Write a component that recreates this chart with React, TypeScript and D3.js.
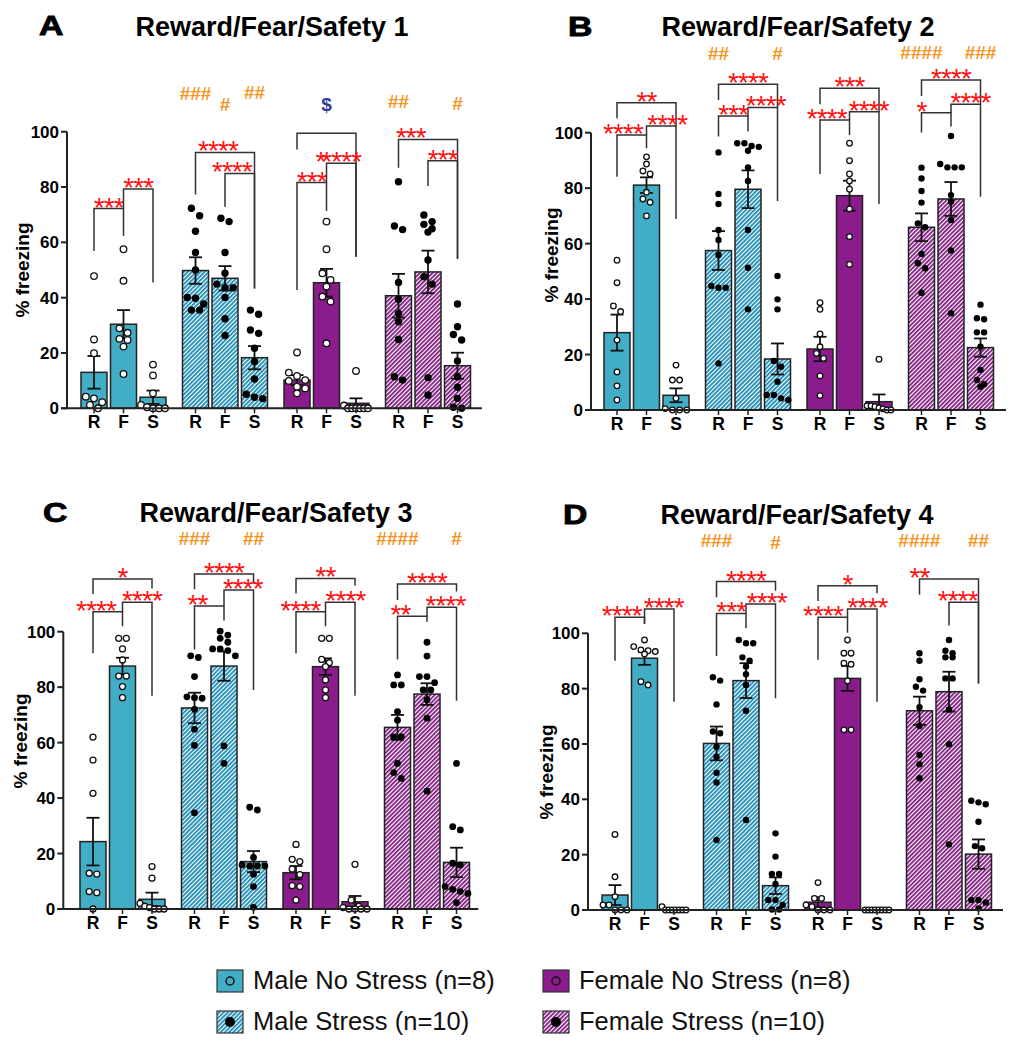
import React from "react";
import * as d3 from "d3";

// ---------- data ----------
const groupNames = ["Male No Stress (n=8)", "Male Stress (n=10)", "Female No Stress (n=8)", "Female Stress (n=10)"];
const phases = ["R", "F", "S"];
const yTicks = [0, 20, 40, 60, 80, 100];
const panelLetters = ["A", "B", "C", "D"];
const panelTitles = ["Reward/Fear/Safety 1", "Reward/Fear/Safety 2", "Reward/Fear/Safety 3", "Reward/Fear/Safety 4"];

// bar order: MNS R,F,S | MS R,F,S | FNS R,F,S | FS R,F,S
const meanA = [13.0, 30.4, 4.0, 49.8, 47.0, 18.3, 10.2, 45.4, 1.8, 40.7, 49.3, 15.4];
const semA = [5.9, 5.1, 2.4, 4.8, 4.4, 4.2, 1.8, 5.0, 1.8, 7.9, 7.7, 4.7];
const ptsA = [
  [47.8, 24.9, 19.9, 4.2, 3.6, 2.2, 1.2, 0],
  [57.5, 46.1, 28.9, 27.3, 25.1, 24.7, 22.3, 12.4],
  [15.8, 11.9, 5.4, 1.2, 0.4, 0, 0, 0],
  [72.3, 69.6, 64.0, 56.3, 50.0, 40.1, 39.8, 37.7, 35.5, 35.5],
  [68.7, 67.5, 56.3, 48.8, 44.9, 43.6, 43.6, 40.1, 32.4, 26.3],
  [35.5, 34.0, 28.3, 27.1, 21.7, 16.9, 10.6, 5.1, 4.0, 3.5],
  [20.2, 12.9, 11.7, 10.2, 9.9, 7.8, 7.2, 5.4],
  [67.5, 57.5, 48.8, 46.4, 44.0, 40.4, 38.6, 23.5],
  [13.5, 1.0, 0, 0, 0, 0, 0, 0],
  [81.9, 65.9, 64.6, 45.5, 39.4, 34.3, 31.3, 24.9, 11.4, 10.2],
  [69.9, 67.5, 66.5, 64.9, 63.7, 53.6, 47.6, 44.9, 11.1, 4.8],
  [37.7, 29.5, 26.7, 24.7, 17.1, 11.4, 7.6, 3.6, 0.4, 0],
];
const bracketsA = [
  { a: 0, b: 1, top: 72.2, l1: 56.9, l2: 62.3, label: "***" },
  { a: 1, b: 2, top: 79.3, l1: 72.2, l2: 45.5, label: "***" },
  { a: 3, b: 5, top: 92.5, l1: 77.3, l2: 43.3, label: "****", lx: 3.76 },
  { a: 4, b: 5, top: 84.9, l1: 72.9, l2: 43.3, label: "****", lx: 4.24 },
  { a: 6, b: 8, top: 99.4, l1: 93.6, l2: 54.8, label: "*", lx: 6.8, ly: 88.6 },
  { a: 6, b: 7, top: 81.6, l1: 42.8, l2: 71.3, label: "***" },
  { a: 7, b: 8, top: 88.6, l1: 81.6, l2: 54.8, label: "****" },
  { a: 9, b: 11, top: 97.2, l1: 87.0, l2: 54.0, label: "***", lx: 9.42 },
  { a: 10, b: 11, top: 89.5, l1: 80.4, l2: 54.0, label: "***" },
];
const marksA = [
  { bar: 3, v: 113.9, text: "###", kind: "stress" },
  { bar: 4, v: 110.0, text: "#", kind: "stress" },
  { bar: 5, v: 114.1, text: "##", kind: "stress" },
  { bar: 7, v: 109.9, text: "$", kind: "sex" },
  { bar: 9, v: 110.8, text: "##", kind: "stress" },
  { bar: 11, v: 110.2, text: "#", kind: "stress" },
];

const meanB = [27.9, 81.1, 5.3, 57.5, 79.6, 18.4, 22.0, 77.3, 3.0, 65.9, 76.1, 22.5];
const semB = [6.5, 2.8, 2.5, 7.0, 6.8, 5.6, 4.4, 5.4, 2.6, 5.0, 6.1, 3.3];
const ptsB = [
  [54.0, 45.9, 37.5, 35.5, 25.2, 13.7, 8.7, 3.6],
  [91.3, 88.7, 86.2, 85.1, 78.5, 76.1, 74.9, 70.0],
  [16.2, 10.8, 10.8, 4.2, 0.5, 0, 0, 0],
  [92.9, 77.9, 74.3, 64.9, 61.3, 55.9, 44.7, 44.1, 44.1, 16.8],
  [96.2, 96.2, 95.2, 94.9, 93.5, 87.5, 82.6, 64.9, 51.3, 36.3],
  [48.3, 39.9, 36.3, 17.7, 15.6, 10.2, 5.4, 5.4, 4.2, 3.6],
  [38.7, 36.3, 27.4, 22.8, 20.4, 18.6, 12.3, 5.2],
  [96.2, 89.9, 85.1, 82.6, 79.6, 72.5, 62.5, 52.5],
  [18.3, 1.5, 1.5, 1.2, 0.8, 0.4, 0, 0],
  [87.4, 83.5, 79.0, 74.8, 67.3, 65.9, 56.3, 52.9, 51.1, 42.3],
  [98.8, 88.7, 87.5, 87.5, 87.5, 77.5, 75.1, 68.5, 57.5, 34.9],
  [38.0, 33.1, 32.7, 28.0, 28.0, 22.8, 14.4, 10.8, 9.3, 8.4],
];
const bracketsB = [
  { a: 0, b: 2, top: 110.8, l1: 105.2, l2: 102.4, label: "**" },
  { a: 1, b: 2, top: 102.4, l1: 99.2, l2: 68.9, label: "****", lx: 1.7 },
  { a: 0, b: 1, top: 99.2, l1: 84.1, l2: 94.4, label: "****", lx: 0.2 },
  { a: 3, b: 5, top: 117.5, l1: 111.8, l2: 109.1, label: "****" },
  { a: 4, b: 5, top: 109.1, l1: 106.0, l2: 75.4, label: "****", lx: 4.6 },
  { a: 3, b: 4, top: 106.0, l1: 98.6, l2: 100.4, label: "***" },
  { a: 6, b: 8, top: 116.0, l1: 110.3, l2: 107.6, label: "***" },
  { a: 7, b: 8, top: 107.6, l1: 104.6, l2: 74.3, label: "****", lx: 7.65 },
  { a: 6, b: 7, top: 104.6, l1: 85.1, l2: 99.2, label: "****", lx: 6.23 },
  { a: 9, b: 11, top: 119.0, l1: 113.2, l2: 110.3, label: "****" },
  { a: 10, b: 11, top: 110.3, l1: 107.2, l2: 76.9, label: "****", lx: 10.66 },
  { a: 9, b: 10, top: 107.2, l1: 100.1, l2: 102.2, label: "*", lx: 9.0 },
];
const marksB = [
  { bar: 3, v: 128.6, text: "##", kind: "stress" },
  { bar: 5, v: 128.6, text: "#", kind: "stress" },
  { bar: 9, v: 129.0, text: "####", kind: "stress" },
  { bar: 11, v: 129.0, text: "###", kind: "stress" },
];

const meanC = [24.3, 87.6, 3.5, 72.5, 87.6, 17.1, 13.1, 87.4, 2.6, 65.5, 77.5, 16.8];
const semC = [8.6, 3.0, 2.4, 5.5, 5.3, 3.8, 2.4, 3.0, 2.1, 4.5, 3.9, 5.3];
const ptsC = [
  [62.0, 53.7, 41.7, 12.9, 12.6, 6.3, 5.9, 0],
  [97.6, 97.6, 93.8, 89.8, 84.0, 84.0, 80.2, 76.2],
  [15.3, 11.1, 2.0, 1.0, 0.5, 0, 0, 0],
  [91.3, 90.7, 83.8, 76.5, 76.2, 76.0, 72.0, 64.8, 59.0, 34.7],
  [100.2, 98.8, 97.6, 96.2, 93.8, 93.8, 93.2, 91.3, 58.8, 52.5],
  [36.7, 35.7, 18.6, 15.9, 15.5, 15.5, 15.5, 12.5, 8.1, 0.6],
  [23.3, 17.9, 17.1, 14.4, 12.4, 8.4, 8.1, 3.2],
  [97.6, 97.6, 90.0, 88.8, 87.4, 82.6, 79.0, 76.2],
  [16.1, 3.2, 1.0, 0.5, 0, 0, 0, 0],
  [84.4, 80.8, 80.8, 71.2, 68.1, 62.1, 62.1, 52.5, 49.2, 47.1],
  [96.2, 91.2, 83.8, 83.8, 81.6, 79.0, 79.0, 75.4, 68.8, 42.5],
  [52.5, 29.7, 28.5, 16.5, 15.9, 8.1, 7.1, 6.3, 5.6, 2.3],
];
const bracketsC = [
  { a: 0, b: 2, top: 119.0, l1: 113.6, l2: 115.6, label: "*" },
  { a: 1, b: 2, top: 110.6, l1: 107.2, l2: 76.9, label: "****", lx: 1.66 },
  { a: 0, b: 1, top: 107.2, l1: 92.2, l2: 102.0, label: "****", lx: 0.1 },
  { a: 3, b: 5, top: 120.8, l1: 115.3, l2: 117.4, label: "****" },
  { a: 4, b: 5, top: 115.0, l1: 109.3, l2: 79.0, label: "****", lx: 4.64 },
  { a: 3, b: 4, top: 109.3, l1: 93.6, l2: 104.0, label: "**", lx: 3.1 },
  { a: 6, b: 8, top: 119.2, l1: 113.8, l2: 116.6, label: "**" },
  { a: 7, b: 8, top: 110.6, l1: 107.2, l2: 76.9, label: "****", lx: 7.68 },
  { a: 6, b: 7, top: 107.2, l1: 92.2, l2: 102.0, label: "****", lx: 6.15 },
  { a: 9, b: 11, top: 117.2, l1: 111.4, l2: 114.5, label: "****" },
  { a: 10, b: 11, top: 108.8, l1: 105.6, l2: 75.1, label: "****", lx: 10.63 },
  { a: 9, b: 10, top: 105.6, l1: 90.0, l2: 103.6, label: "**", lx: 9.1 },
];
const marksC = [
  { bar: 3, v: 133.7, text: "###", kind: "stress" },
  { bar: 5, v: 133.7, text: "##", kind: "stress" },
  { bar: 9, v: 133.7, text: "####", kind: "stress" },
  { bar: 11, v: 133.7, text: "#", kind: "stress" },
];

const meanD = [5.4, 91.0, 0.15, 60.2, 82.9, 8.8, 2.8, 83.7, 0, 72.0, 78.9, 20.2];
const semD = [3.6, 2.4, 0, 6.1, 6.3, 3.0, 1.8, 4.5, 0, 5.1, 7.2, 5.3];
const ptsD = [
  [27.3, 12.0, 4.8, 1.8, 1.8, 0, 0, 0],
  [97.6, 95.2, 94.0, 93.7, 93.4, 92.5, 82.5, 81.3],
  [1.2, 0, 0, 0, 0, 0, 0, 0],
  [84.1, 82.9, 74.3, 64.5, 63.9, 59.0, 55.4, 49.6, 46.1, 25.3],
  [97.6, 96.4, 96.4, 91.3, 90.1, 88.0, 85.2, 81.3, 72.0, 32.5],
  [27.7, 19.3, 13.0, 13.0, 9.4, 3.6, 3.6, 1.8, 0.2, 0.2],
  [9.9, 4.2, 4.2, 1.8, 1.2, 0, 0, 0],
  [97.6, 92.8, 92.8, 89.2, 88.8, 82.8, 65.1, 65.1],
  [0, 0, 0, 0, 0, 0, 0, 0],
  [92.8, 90.1, 83.4, 80.7, 79.3, 73.3, 66.5, 56.0, 52.7, 47.6],
  [97.6, 93.7, 92.8, 91.3, 91.3, 83.7, 83.7, 72.5, 59.9, 23.7],
  [39.5, 38.9, 38.2, 31.9, 23.1, 22.3, 3.6, 3.6, 2.7, 0.6],
];
const bracketsD = [
  { a: 1, b: 2, top: 108.8, l1: 103.4, l2: 75.3, label: "****", lx: 1.65 },
  { a: 0, b: 1, top: 105.8, l1: 90.1, l2: 103.4, label: "****", lx: 0.23 },
  { a: 3, b: 5, top: 118.7, l1: 113.0, l2: 115.4, label: "****" },
  { a: 4, b: 5, top: 110.6, l1: 107.2, l2: 76.5, label: "****", lx: 4.7 },
  { a: 3, b: 4, top: 107.2, l1: 91.8, l2: 101.8, label: "***" },
  { a: 6, b: 8, top: 117.2, l1: 111.7, l2: 114.5, label: "*" },
  { a: 7, b: 8, top: 108.8, l1: 105.8, l2: 75.3, label: "****", lx: 7.68 },
  { a: 6, b: 7, top: 105.8, l1: 90.4, l2: 100.2, label: "****", lx: 6.17 },
  { a: 9, b: 11, top: 119.6, l1: 113.9, l2: 81.9, label: "**", lx: 9.0 },
  { a: 10, b: 11, top: 111.2, l1: 102.8, l2: 81.9, label: "****", lx: 10.3 },
];
const marksD = [
  { bar: 3, v: 133.5, text: "###", kind: "stress" },
  { bar: 5, v: 132.9, text: "#", kind: "stress" },
  { bar: 9, v: 133.5, text: "####", kind: "stress" },
  { bar: 11, v: 133.5, text: "##", kind: "stress" },
];

// ---------- layout / style ----------
const FONT = "'Liberation Sans', Arial, Helvetica, sans-serif";
const TEAL = "#42AEC5";
const TEAL_H = "#1A8CB5";
const PURPLE = "#8B1C8B";
const PURPLE_H = "#7C137C";
const RED = "#FF1010";
const ORANGE = "#F7941D";
const BLUE = "#2E3C9C";

const panels = [
  { axisX: 67, barStart: 81, y0: 408.3, y100: 131.7, r: 3.3, letter: [39, 35], title: [272, 36], ylab: [29, 270], means: meanA, sems: semA, pts: ptsA, brackets: bracketsA, marks: marksA },
  { axisX: 591, barStart: 604, y0: 410, y100: 132.7, r: 2.8, letter: [568, 36], title: [798, 36], ylab: [558, 255], means: meanB, sems: semB, pts: ptsB, brackets: bracketsB, marks: marksB },
  { axisX: 63.3, barStart: 80, y0: 909, y100: 631.7, r: 3.0, letter: [43, 522], title: [276, 522], ylab: [27, 741], means: meanC, sems: semC, pts: ptsC, brackets: bracketsC, marks: marksC },
  { axisX: 588, barStart: 602, y0: 910, y100: 633.3, r: 2.8, letter: [563, 524], title: [797, 524], ylab: [553, 772], means: meanD, sems: semD, pts: ptsD, brackets: bracketsD, marks: marksD },
];

const fills = [TEAL, "url(#hatchTeal)", PURPLE, "url(#hatchPurple)"];
const openPts = [true, false, true, false];

function dodge(vals: number[], y: (v: number) => number, r: number, cx: number) {
  const sorted = [...vals].sort((a, b) => b - a);
  const out: { x: number; y: number }[] = [];
  let i = 0;
  const thr = 2 * r + 1;
  while (i < sorted.length) {
    const start = y(sorted[i]);
    const bin = [sorted[i]];
    let j = i + 1;
    while (j < sorted.length && Math.abs(y(sorted[j]) - start) < thr) {
      bin.push(sorted[j]);
      j++;
    }
    const n = bin.length;
    const step = n > 1 ? Math.min(2 * r + 1.6, 24 / (n - 1)) : 0;
    bin.forEach((v, k) => out.push({ x: cx + (k - (n - 1) / 2) * step, y: y(v) }));
    i = j;
  }
  return out;
}

function Panel({ p, idx }: { p: any; idx: number }) {
  const y = d3.scaleLinear().domain([0, 100]).range([p.y0, p.y100]);
  const groupStep = 101.5;
  const xg = d3
    .scaleBand<number>()
    .domain(d3.range(4))
    .range([p.barStart, p.barStart + 4 * groupStep - 16.5])
    .paddingInner(16.5 / groupStep)
    .paddingOuter(0);
  const xb = d3
    .scaleBand<string>()
    .domain(phases)
    .range([0, xg.bandwidth()])
    .paddingInner(3.5 / 29.5)
    .paddingOuter(0);
  const bw = xb.bandwidth();
  const barX = (i: number) => (xg(Math.floor(i / 3)) as number) + (xb(phases[i % 3]) as number);
  const cx = (i: number) => barX(i) + bw / 2;
  const fx = (f: number) => {
    const lo = Math.floor(f);
    const hi = Math.min(lo + 1, 11);
    return cx(lo) + (f - lo) * (cx(hi) - cx(lo));
  };
  const axisEnd = p.axisX + 415;
  const capW = 6.5;

  return (
    <g>
      <text transform={`translate(${p.letter[0]},${p.letter[1]}) scale(1.25,1)`} fontFamily={FONT} fontWeight={900} fontSize={27} stroke="#000" strokeWidth={0.9}>
        {panelLetters[idx]}
      </text>
      <text x={p.title[0]} y={p.title[1]} textAnchor="middle" fontFamily={FONT} fontWeight="bold" fontSize={27}>
        {panelTitles[idx]}
      </text>
      <text transform={`translate(${p.ylab[0]},${p.ylab[1]}) rotate(-90)`} textAnchor="middle" fontFamily={FONT} fontWeight="bold" fontSize={19}>
        % freezing
      </text>

      {/* bars */}
      {p.means.map((m: number, i: number) => {
        const g = Math.floor(i / 3);
        const h = p.y0 - y(m);
        if (h <= 0.3) return null;
        return <rect key={"b" + i} x={barX(i)} y={y(m)} width={bw} height={h} fill={fills[g]} stroke="#222" strokeWidth={1.5} />;
      })}

      {/* error bars */}
      {p.means.map((m: number, i: number) => {
        const s = p.sems[i];
        if (s < 0.5) return null;
        const c = cx(i);
        const yt = y(m + s);
        const yb = y(Math.max(0, m - s));
        return (
          <g key={"e" + i} stroke="#111" strokeWidth={1.8} fill="none">
            <line x1={c} x2={c} y1={yt} y2={yb} />
            <line x1={c - capW} x2={c + capW} y1={yt} y2={yt} />
            <line x1={c - capW} x2={c + capW} y1={yb} y2={yb} />
          </g>
        );
      })}

      {/* points */}
      {p.pts.map((vals: number[], i: number) => {
        const g = Math.floor(i / 3);
        const pos = dodge(vals, y, p.r, cx(i));
        return (
          <g key={"p" + i}>
            {pos.map((q, k) =>
              openPts[g] ? (
                <circle key={k} cx={q.x} cy={q.y} r={p.r} fill="#fff" stroke="#111" strokeWidth={1.3} />
              ) : (
                <circle key={k} cx={q.x} cy={q.y} r={p.r + 0.4} fill="#000" />
              )
            )}
          </g>
        );
      })}

      {/* axes */}
      <line x1={p.axisX} x2={p.axisX} y1={y(0)} y2={y(100)} stroke="#222" strokeWidth={2} />
      {yTicks.map((t) => (
        <g key={"t" + t}>
          <line x1={p.axisX - 6} x2={p.axisX} y1={y(t)} y2={y(t)} stroke="#222" strokeWidth={2} />
          <text x={p.axisX - 8} y={y(t) + 6} textAnchor="end" fontFamily={FONT} fontWeight="bold" fontSize={17}>
            {t}
          </text>
        </g>
      ))}
      <line x1={p.axisX - 6} x2={axisEnd} y1={y(0)} y2={y(0)} stroke="#222" strokeWidth={2} />
      {p.means.map((_m: number, i: number) => (
        <g key={"x" + i}>
          <line x1={cx(i)} x2={cx(i)} y1={y(0)} y2={y(0) + 5} stroke="#222" strokeWidth={1.5} />
          <text x={cx(i)} y={y(0) + 20} textAnchor="middle" fontFamily={FONT} fontWeight="bold" fontSize={17.5}>
            {phases[i % 3]}
          </text>
        </g>
      ))}

      {/* significance brackets */}
      {p.brackets.map((b: any, k: number) => {
        const x1 = cx(b.a);
        const x2 = cx(b.b);
        const path = `M${x1},${y(b.l1)}V${y(b.top)}H${x2}V${y(b.l2)}`;
        const lx = b.lx !== undefined ? fx(b.lx) : (x1 + x2) / 2;
        const ly = y(b.ly !== undefined ? b.ly : b.top) + 8;
        return (
          <g key={"br" + k}>
            <path d={path} fill="none" stroke="#333" strokeWidth={1.5} />
            <text x={lx} y={ly} textAnchor="middle" fontFamily={FONT} fontSize={28} letterSpacing={-0.9} fill={RED}>
              {b.label}
            </text>
          </g>
        );
      })}

      {/* group comparison marks */}
      {p.marks.map((m: any, k: number) => (
        <text key={"m" + k} x={cx(m.bar)} y={y(m.v) + 6.5} textAnchor="middle" fontFamily={FONT} fontWeight="bold" fontSize={19} fill={m.kind === "sex" ? BLUE : ORANGE}>
          {m.text}
        </text>
      ))}
    </g>
  );
}

const legendPos = [
  [217, 970],
  [217, 1011],
  [543, 970],
  [543, 1011],
];

export default function App() {
  return (
    <svg width={1019} height={1050} style={{ position: "absolute", left: 0, top: 0, background: "#fff" }}>
      <defs>
        <pattern id="hatchTeal" width="3" height="3" patternUnits="userSpaceOnUse" patternTransform="rotate(45)">
          <rect width="3" height="3" fill="#fff" />
          <rect width="1.8" height="3" fill={TEAL_H} />
        </pattern>
        <pattern id="hatchPurple" width="3" height="3" patternUnits="userSpaceOnUse" patternTransform="rotate(45)">
          <rect width="3" height="3" fill="#fff" />
          <rect width="1.75" height="3" fill={PURPLE_H} />
        </pattern>
      </defs>
      <rect width={1019} height={1050} fill="#fff" />
      {panels.map((p, i) => (
        <Panel key={i} p={p} idx={i} />
      ))}
      {groupNames.map((name, g) => {
        const [lx, ly] = legendPos[g];
        return (
          <g key={"lg" + g}>
            <rect x={lx} y={ly} width={26} height={22} fill={fills[g]} stroke="#333" strokeWidth={1.2} />
            {openPts[g] ? (
              <circle cx={lx + 13} cy={ly + 11} r={4} fill="none" stroke="#111" strokeWidth={1.5} />
            ) : (
              <circle cx={lx + 13} cy={ly + 11} r={5} fill="#000" />
            )}
            <text x={lx + 36} y={ly + 19} fontFamily={FONT} fontSize={25.5} fill="#111">
              {name}
            </text>
          </g>
        );
      })}
    </svg>
  );
}
